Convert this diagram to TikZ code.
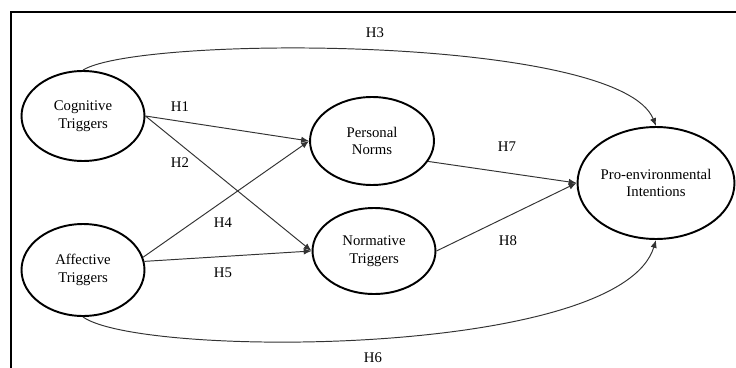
\documentclass[tikz,border=0pt]{standalone}
\usepackage{fontspec}
\setmainfont{Liberation Serif}
\usetikzlibrary{shapes.geometric,arrows.meta}
\tikzset{
  construct/.style={
    shape = ellipse,
    draw,
    line width = 1.1pt,
    inner sep = 0pt,
    align = center
  },
  hyp/.style={
    draw = black!80,
    line width = 0.55pt,
    -{Latex[length=4.5pt,width=3.6pt]}
  },
  hlabel/.style={
    inner sep = 0pt
  },
  every picture/.style = {
    x = 0.02cm,
    y = -0.02cm,
    font = \fontsize{8.4}{10}\selectfont
  }
}
\begin{document}
\begin{tikzpicture}
            \useasboundingbox (0,0) rectangle (736,368);
            \clip (0,0) rectangle (736,368);
            \draw[line width=0.8pt] (11,12) rectangle (745,380);
            \node[construct,minimum width=2.46cm,minimum height=1.8cm] (cog) at (83,116) {Cognitive\\Triggers};
            \node[construct,minimum width=2.46cm,minimum height=1.84cm] (aff) at (83,270) {Affective\\Triggers};
            \node[construct,minimum width=2.48cm,minimum height=1.76cm] (pn) at (372,141) {Personal\\Norms};
            \node[construct,minimum width=2.46cm,minimum height=1.72cm] (nt) at (374,251) {Normative\\Triggers};
            \node[construct,minimum width=3.14cm,minimum height=2.24cm] (pei) at (656,183) {Pro-environmental\\Intentions};
            \draw[hyp] (cog.east) -- (pn.west);
            \draw[hyp] (cog.east) -- (nt.west);
            \draw[hyp] (aff.12) -- (pn.west);
            \draw[hyp] (aff.8) -- (nt.west);
            \draw[hyp] (pn.-20) -- (pei.west);
            \draw[hyp] (nt.east) -- (pei.west);
            \draw[hyp] (cog.north) .. controls (140,35) and (620,35) .. (pei.north);
            \draw[hyp] (aff.south) .. controls (140,358) and (620,358) .. (pei.south);
            \node[hlabel] (h1) at (180,107) {H1};
            \node[hlabel] (h2) at (180,163) {H2};
            \node[hlabel] (h3) at (375,33) {H3};
            \node[hlabel] (h4) at (223,223) {H4};
            \node[hlabel] (h5) at (223,273) {H5};
            \node[hlabel] (h6) at (373,358) {H6};
            \node[hlabel] (h7) at (507,147) {H7};
            \node[hlabel] (h8) at (508,241) {H8};
\end{tikzpicture}
\end{document}
